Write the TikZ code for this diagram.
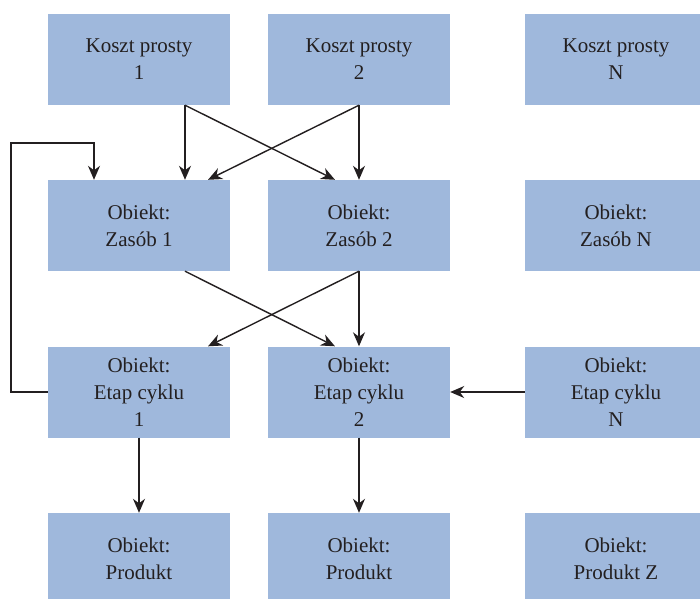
\documentclass[tikz,border=0pt]{standalone}
\usepackage{fontspec}
\setmainfont{Liberation Serif}
\usetikzlibrary{arrows.meta}
\definecolor{boxblue}{HTML}{9FB8DC}
\definecolor{ink}{HTML}{231F20}
\begin{document}
\begin{tikzpicture}[x=1pt,y=-1pt,
  box/.style={fill=boxblue, draw=none, minimum width=182pt, minimum height=91pt,
    inner sep=0pt, align=center, text=ink,
    font=\fontsize{21pt}{27pt}\selectfont},
  arr/.style={draw=ink, line width=1.4pt, -{Stealth[length=14pt,width=12pt,inset=4.5pt]}}]
\useasboundingbox (0,0) rectangle (700,598);
\begin{scope}
\clip (0,0) rectangle (700,598);
\node[box] (k1) at (139,59.5) {Koszt prosty\\1};
\node[box] (k2) at (359,59.5) {Koszt prosty\\2};
\node[box] (kN) at (616,59.5) {Koszt prosty\\N};
\node[box] (z1) at (139,225.5) {Obiekt:\\Zasób 1};
\node[box] (z2) at (359,225.5) {Obiekt:\\Zasób 2};
\node[box] (zN) at (616,225.5) {Obiekt:\\Zasób N};
\node[box] (e1) at (139,392) {Obiekt:\\Etap cyklu\\1};
\node[box] (e2) at (359,392) {Obiekt:\\Etap cyklu\\2};
\node[box] (eN) at (616,392) {Obiekt:\\Etap cyklu\\N};
\node[box] (p1) at (139,558.5) {Obiekt:\\Produkt};
\node[box] (p2) at (359,558.5) {Obiekt:\\Produkt};
\node[box] (pZ) at (616,558.5) {Obiekt:\\Produkt Z};
\end{scope}
% row 1 -> row 2
\draw[arr] ([xshift=46pt]k1.south) -- ([xshift=46pt]z1.north);
\draw[arr] ([xshift=46pt]k1.south) -- ([xshift=-24pt]z2.north);
\draw[arr] (k2.south) -- ([xshift=69pt]z1.north);
\draw[arr] (k2.south) -- (z2.north);
% row 2 -> row 3
\draw[arr] ([xshift=46pt]z1.south) -- ([xshift=-24pt]e2.north);
\draw[arr] (z2.south) -- ([xshift=69pt]e1.north);
\draw[arr] (z2.south) -- (e2.north);
% feedback loop
\coordinate (fbA) at (11,392);
\coordinate (fbB) at (11,143);
\draw[arr] (e1.west) -- (fbA) -- (fbB) -| ([xshift=-45pt]z1.north);
% row 3
\draw[arr] (eN.west) -- (e2.east);
\draw[arr] (e1.south) -- (p1.north);
\draw[arr] (e2.south) -- (p2.north);
\end{tikzpicture}
\end{document}
